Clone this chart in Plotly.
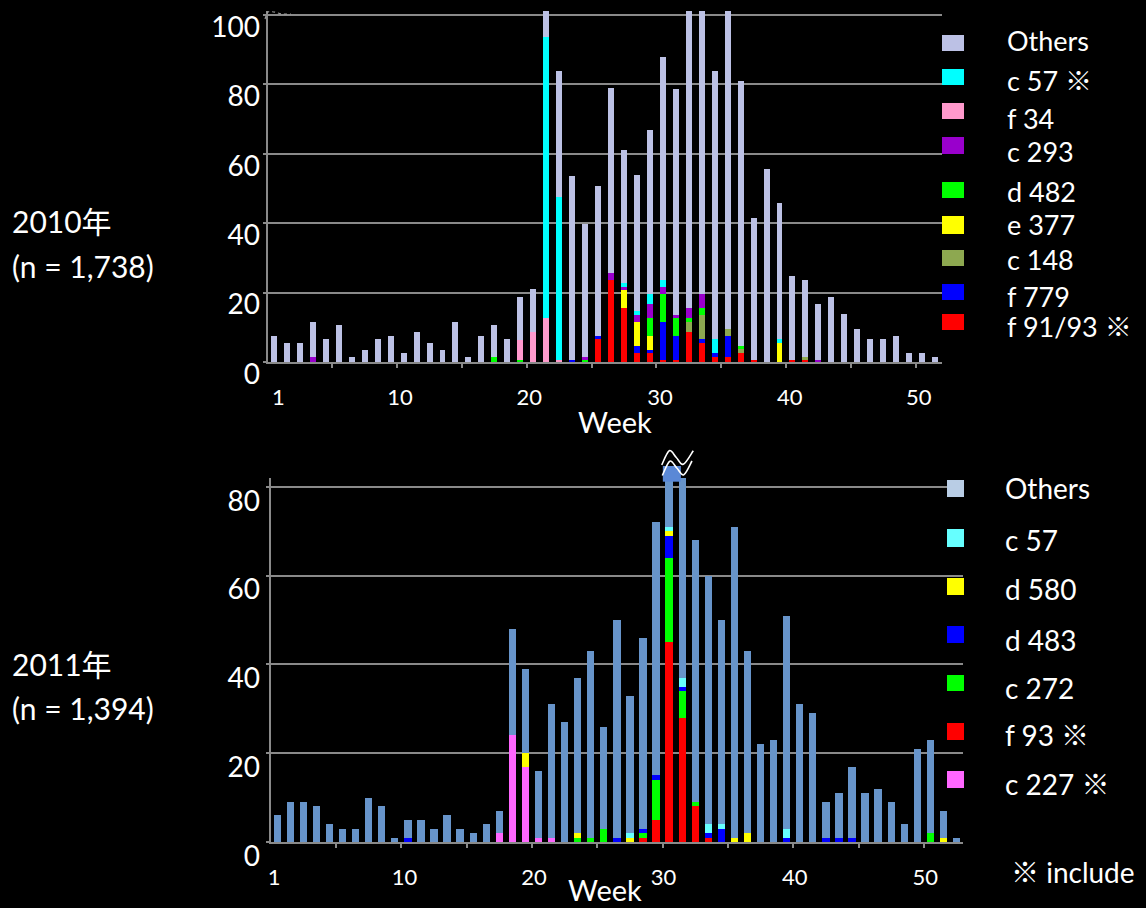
import plotly.graph_objects as go

W, H = 1146, 908


def fx(p):
    return p / W


def fy(p):
    return 1 - p / H


FONT = "Lato, 'Noto Sans CJK JP', sans-serif"
GRID = "#8A8A8A"
WHITE = "#FFFFFF"

# ---------------- data: 2010 (52 weeks) ----------------
weeks_2010 = list(range(1, 53))
others_2010 = [7.4, 5.4, 5.4, 10.1, 6.5, 10.6, 1.3, 3.4, 6.5, 7.4,
               2.5, 8.6, 5.4, 3.4, 11.4, 1.3, 7.4, 9.3, 6.5, 12.3,
               12.3, 16.3, 36.3, 53.1, 38.4, 43.3, 53.3, 38.4, 39.2, 47.3,
               64.3, 65.2, 109.5, 100.5, 77.3, 115.6, 76.5, 41.0, 55.6, 39.3,
               24.2, 22.3, 16.1, 18.7, 13.8, 9.4, 6.5, 6.5, 7.4, 2.5,
               2.5, 1.3]
c57_2010 = [0, 0, 0, 0, 0, 0, 0, 0, 0, 0,
            0, 0, 0, 0, 0, 0, 0, 0, 0, 0,
            0, 81.1, 47.0, 0, 0, 0, 0, 1.2, 1.1, 2.9,
            2.1, 0, 0, 0, 4.0, 0, 0, 0, 0, 1.1,
            0, 0, 0, 0, 0, 0, 0, 0, 0, 0,
            0, 0]
f34_2010 = [0, 0, 0, 0, 0, 0, 0, 0, 0, 0,
            0, 0, 0, 0, 0, 0, 0, 0, 0, 5.9,
            8.7, 12.6, 0.5, 0, 0, 0, 0, 0, 0, 0,
            0, 0, 0, 0, 0, 0, 0, 0, 0, 0,
            0, 0, 0, 0, 0, 0, 0, 0, 0, 0,
            0, 0]
c293_2010 = [0, 0, 0, 1.3, 0, 0, 0, 0, 0, 0,
             0, 0, 0, 0, 0, 0, 0, 0, 0, 0,
             0, 0, 0, 0, 0.8, 0, 2.0, 0.8, 2.1, 4.0,
             2.0, 0.9, 2.9, 4.0, 0, 0, 0, 0, 0, 0,
             0, 0, 0.5, 0, 0, 0, 0, 0, 0, 0,
             0, 0]
d482_2010 = [0, 0, 0, 0, 0, 0, 0, 0, 0, 0,
             0, 0, 0, 0, 0, 0, 0, 1.3, 0, 0.5,
             0, 0, 0, 0, 0.5, 0, 0, 0, 0, 5.2,
             8.1, 5.2, 1.2, 2.0, 0, 0, 0.8, 0, 0, 0,
             0, 0, 0, 0, 0, 0, 0, 0, 0, 0,
             0, 0]
e377_2010 = [0, 0, 0, 0, 0, 0, 0, 0, 0, 0,
             0, 0, 0, 0, 0, 0, 0, 0, 0, 0,
             0, 0, 0, 0, 0, 0, 0, 5.2, 6.9, 3.9,
             0, 0, 0, 0, 0, 0, 0, 0, 0, 5.4,
             0, 0, 0, 0, 0, 0, 0, 0, 0, 0,
             0, 0]
c148_2010 = [0, 0, 0, 0, 0, 0, 0, 0, 0, 0,
             0, 0, 0, 0, 0, 0, 0, 0, 0, 0,
             0, 0, 0, 0, 0, 0, 0, 0, 0, 0,
             0, 0, 2.8, 7.0, 0, 2.0, 1.2, 0, 0, 0,
             0, 0.8, 0, 0, 0, 0, 0, 0, 0, 0,
             0, 0]
f779_2010 = [0, 0, 0, 0, 0, 0, 0, 0, 0, 0,
             0, 0, 0, 0, 0, 0, 0, 0, 0, 0,
             0, 0, 0, 0.5, 0, 0.9, 0, 0, 2.0, 1.0,
             10.9, 6.9, 0, 1.1, 1.2, 6.1, 0, 0, 0, 0,
             0, 0, 0, 0, 0, 0, 0, 0, 0, 0,
             0, 0]
f9193_2010 = [0, 0, 0, 0, 0, 0, 0, 0, 0, 0,
              0, 0, 0, 0, 0, 0, 0, 0, 0, 0,
              0, 0, 0, 0, 0, 6.5, 23.6, 15.5, 2.5, 2.5,
              0.5, 0.5, 8.6, 5.4, 1.3, 1.3, 2.5, 0.5, 0, 0,
              0.5, 0.5, 0, 0, 0, 0, 0, 0, 0, 0,
              0, 0]

# ---------------- data: 2011 (53 weeks) ----------------
weeks_2011 = list(range(1, 54))
others_2011 = [6, 9, 9, 8, 4, 3, 3, 10, 8, 1,
               4, 5, 3, 6, 3, 2, 4, 5, 24, 19,
               15, 30, 27, 35, 42, 23, 49, 31, 43, 57,
               104, 45, 59, 56, 46, 70, 41, 22, 23, 48,
               31, 29, 8, 10, 16, 11, 12, 9, 4, 21,
               21, 6, 1]
c57_2011 = [0, 0, 0, 0, 0, 0, 0, 0, 0, 0,
            0, 0, 0, 0, 0, 0, 0, 0, 0, 0,
            0, 0, 0, 0, 0, 0, 0, 1, 0, 0,
            1, 2, 0, 2, 1, 0, 0, 0, 0, 2,
            0, 0, 0, 0, 0, 0, 0, 0, 0, 0,
            0, 0, 0]
d580_2011 = [0, 0, 0, 0, 0, 0, 0, 0, 0, 0,
             0, 0, 0, 0, 0, 0, 0, 0, 0, 3,
             0, 0, 0, 1, 0, 0, 0, 1, 0, 0,
             1, 0, 0, 0, 0, 1, 2, 0, 0, 0,
             0, 0, 0, 0, 0, 0, 0, 0, 0, 0,
             0, 1, 0]
d483_2011 = [0, 0, 0, 0, 0, 0, 0, 0, 0, 0,
             1, 0, 0, 0, 0, 0, 0, 0, 0, 0,
             0, 0, 0, 0, 0, 0, 1, 0, 1, 1,
             5, 1, 0, 1, 3, 0, 0, 0, 0, 1,
             0, 0, 1, 1, 1, 0, 0, 0, 0, 0,
             0, 0, 0]
c272_2011 = [0, 0, 0, 0, 0, 0, 0, 0, 0, 0,
             0, 0, 0, 0, 0, 0, 0, 0, 0, 0,
             0, 0, 0, 1, 1, 3, 0, 0, 1, 9,
             19, 6, 1, 0, 0, 0, 0, 0, 0, 0,
             0, 0, 0, 0, 0, 0, 0, 0, 0, 0,
             2, 0, 0]
f93_2011 = [0, 0, 0, 0, 0, 0, 0, 0, 0, 0,
            0, 0, 0, 0, 0, 0, 0, 0, 0, 0,
            0, 0, 0, 0, 0, 0, 0, 0, 1, 5,
            45, 28, 8, 1, 0, 0, 0, 0, 0, 0,
            0, 0, 0, 0, 0, 0, 0, 0, 0, 0,
            0, 0, 0]
c227_2011 = [0, 0, 0, 0, 0, 0, 0, 0, 0, 0,
             0, 0, 0, 0, 0, 0, 0, 2, 24, 17,
             1, 1, 0, 0, 0, 0, 0, 0, 0, 0,
             0, 0, 0, 0, 0, 0, 0, 0, 0, 0,
             0, 0, 0, 0, 0, 0, 0, 0, 0, 0,
             0, 0, 0]

week_labels = ["1", "10", "20", "30", "40", "50"]

# stacking order: bottom -> top  (name, values, bar colour[, legend colour])
series_2010 = [
    ("f 91/93 ※", f9193_2010, "#FF0000"),
    ("f 779", f779_2010, "#0000FF"),
    ("c 148", c148_2010, "#8DA850"),
    ("e 377", e377_2010, "#FFFF00"),
    ("d 482", d482_2010, "#00FF00"),
    ("c 293", c293_2010, "#9900CC"),
    ("f 34", f34_2010, "#FF99CC"),
    ("c 57 ※", c57_2010, "#00FFFF"),
    ("Others", others_2010, "#BCC1E5"),
]
series_2011 = [
    ("c 227 ※", c227_2011, "#FF66FF", "#FF66FF"),
    ("f 93 ※", f93_2011, "#FF0000", "#FF0000"),
    ("c 272", c272_2011, "#00FF00", "#00FF00"),
    ("d 483", d483_2011, "#0000FF", "#0000FF"),
    ("d 580", d580_2011, "#FFFF00", "#FFFF00"),
    ("c 57", c57_2011, "#66FFFF", "#66FFFF"),
    ("Others", others_2011, "#6794CA", "#B9CDE5"),
]

fig = go.Figure()
for name, vals, col in series_2010:
    fig.add_trace(go.Bar(x=weeks_2010, y=vals, name=name, marker_color=col,
                         marker_line_width=0, width=0.46,
                         xaxis="x", yaxis="y", showlegend=False))
for name, vals, col, _ in series_2011:
    fig.add_trace(go.Bar(x=weeks_2011, y=vals, name=name, marker_color=col,
                         marker_line_width=0, width=0.56,
                         xaxis="x2", yaxis="y2", showlegend=False))

tickfont_x = dict(family=FONT, size=22, color=WHITE)
tickfont_y = dict(family=FONT, size=28, color=WHITE)
minor_ticks = dict(tickmode="array",
                   tickvals=[5.5, 10.5, 15.5, 20.5, 25.5, 30.5, 35.5, 40.5, 45.5, 50.5],
                   ticks="outside", ticklen=4, tickwidth=2, tickcolor=GRID,
                   showgrid=False)

fig.update_layout(
    width=W, height=H,
    margin=dict(l=0, r=0, t=0, b=0, autoexpand=False),
    paper_bgcolor="#000000", plot_bgcolor="#000000",
    barmode="stack",
    font=dict(family=FONT, color=WHITE),
    xaxis=dict(domain=[fx(267.5), fx(941.5)], range=[0.5, 52.5], anchor="y",
               tickmode="array", tickvals=[1.33, 10.72, 20.7, 30.78, 40.8, 50.75],
               ticktext=week_labels, ticks="", tickfont=tickfont_x,
               ticklabelstandoff=15,
               showgrid=False, zeroline=False, showline=True,
               linecolor=GRID, linewidth=2, minor=minor_ticks),
    yaxis=dict(domain=[fy(362), fy(11)], range=[0, 101.15], anchor="x",
               tickmode="array", tickvals=[0, 20, 40, 60, 80, 100],
               tickfont=tickfont_y, ticks="outside", ticklen=3, tickwidth=2,
               tickcolor=GRID, ticklabelshift=12, ticklabelstandoff=-3,
               ticklabeloverflow="allow",
               showgrid=True, gridcolor=GRID, gridwidth=2, zeroline=False,
               showline=True, linecolor=GRID, linewidth=2),
    xaxis2=dict(domain=[fx(270.7), fx(963)], range=[0.5, 53.5], anchor="y2",
                tickmode="array", tickvals=[0.77, 10.74, 20.66, 30.58, 40.62, 50.61],
                ticktext=week_labels, ticks="", tickfont=tickfont_x,
                ticklabelstandoff=15,
                showgrid=False, zeroline=False, showline=True,
                linecolor=GRID, linewidth=2, minor=minor_ticks),
    yaxis2=dict(domain=[fy(842), fy(478)], range=[0, 82], anchor="x2",
                tickmode="array", tickvals=[0, 20, 40, 60, 80],
                tickfont=tickfont_y, ticks="outside", ticklen=3, tickwidth=2,
                tickcolor=GRID, ticklabelshift=14, ticklabelstandoff=0,
                ticklabeloverflow="allow",
                showgrid=True, gridcolor=GRID, gridwidth=2, zeroline=False,
                showline=True, linecolor=GRID, linewidth=2),
)

annotations = []
shapes = []


def text(t, x, y, size, xanchor="left", pad=1):
    annotations.append(dict(text=t, x=fx(x), y=fy(y), xref="paper", yref="paper",
                            xanchor=xanchor, yanchor="middle", showarrow=False,
                            borderpad=pad,
                            font=dict(family=FONT, size=size, color=WHITE)))


# left side labels
text("2010年", 10, 221, 30)
text("(n = 1,738)", 10, 266, 30)
text("2011年", 10, 664, 30)
text("(n = 1,394)", 10, 708, 30)

# axis titles
text("Week", 615, 422, 29, xanchor="center", pad=0)
text("Week", 605, 889, 29, xanchor="center", pad=0)

# legend 2010 (top -> bottom)
leg_top_boxes = [(35, 51), (69, 85), (103, 119), (137, 154), (182, 198),
                 (216, 234), (250, 266), (284, 300), (314, 330)]
leg_top_text = [41, 81, 118, 152, 192, 225, 259, 296, 327]
for (name, _, col), (y0, y1), ty in zip(series_2010[::-1], leg_top_boxes, leg_top_text):
    shapes.append(dict(type="rect", xref="paper", yref="paper",
                       x0=fx(942), x1=fx(964), y0=fy(y1), y1=fy(y0),
                       fillcolor=col, line_width=0, layer="above"))
    text(name, 1006, ty, 27, pad=0)

# legend 2011
leg_bot_boxes = [(480, 497), (529, 547), (578, 595), (626, 643), (675, 691),
                 (723, 740), (771, 788)]
leg_bot_text = [488, 540, 589, 640, 688, 735, 784]
for (name, _, _, lcol), (y0, y1), ty in zip(series_2011[::-1], leg_bot_boxes, leg_bot_text):
    shapes.append(dict(type="rect", xref="paper", yref="paper",
                       x0=fx(947), x1=fx(964), y0=fy(y1), y1=fy(y0),
                       fillcolor=lcol, line_width=0, layer="above"))
    text(name, 1003, ty, 28)

text("※ include", 1009, 872, 28)

# axis-break marker on the clipped 2011 bar
tot_2011 = [sum(v) for v in zip(*[s[1] for s in series_2011])]
peak_week = weeks_2011[tot_2011.index(max(tot_2011))]
shapes.append(dict(type="rect", xref="x2", yref="paper",
                   x0=peak_week - 0.48, x1=peak_week + 0.9,
                   y0=fy(481.7), y1=fy(466), fillcolor="#5A88D6",
                   line_width=0, layer="above"))


def smooth_path(pts):
    p = [pts[0]] + pts + [pts[-1]]
    d = "M %.5f,%.5f" % (fx(pts[0][0]), fy(pts[0][1]))
    for i in range(1, len(p) - 2):
        p0, p1, p2, p3 = p[i - 1], p[i], p[i + 1], p[i + 2]
        c1 = (p1[0] + (p2[0] - p0[0]) / 6, p1[1] + (p2[1] - p0[1]) / 6)
        c2 = (p2[0] - (p3[0] - p1[0]) / 6, p2[1] - (p3[1] - p1[1]) / 6)
        d += " C %.5f,%.5f %.5f,%.5f %.5f,%.5f" % (fx(c1[0]), fy(c1[1]), fx(c2[0]), fy(c2[1]),
                                                  fx(p2[0]), fy(p2[1]))
    return d


wave1 = [(661.7, 465), (669.3, 450.7), (676.3, 457.5), (683.3, 464.3), (693.3, 450.7)]
wave2 = [(662.3, 475.5), (669.8, 461.2), (676.8, 468), (683.8, 474.8), (692.0, 461)]
for wv in (wave1, wave2):
    shapes.append(dict(type="path", xref="paper", yref="paper", path=smooth_path(wv),
                       line=dict(color=WHITE, width=1.6), layer="above"))

# small dashed break mark at top-left of 2010 axis
shapes.append(dict(type="path", xref="paper", yref="paper",
                   path=smooth_path([(265, 19), (268, 12), (274, 12), (282, 14), (291, 14)]),
                   line=dict(color="#9A9A9A", width=1.2, dash="dot"), layer="above"))

fig.update_layout(annotations=annotations, shapes=shapes)
fig.write_html("out.html")
